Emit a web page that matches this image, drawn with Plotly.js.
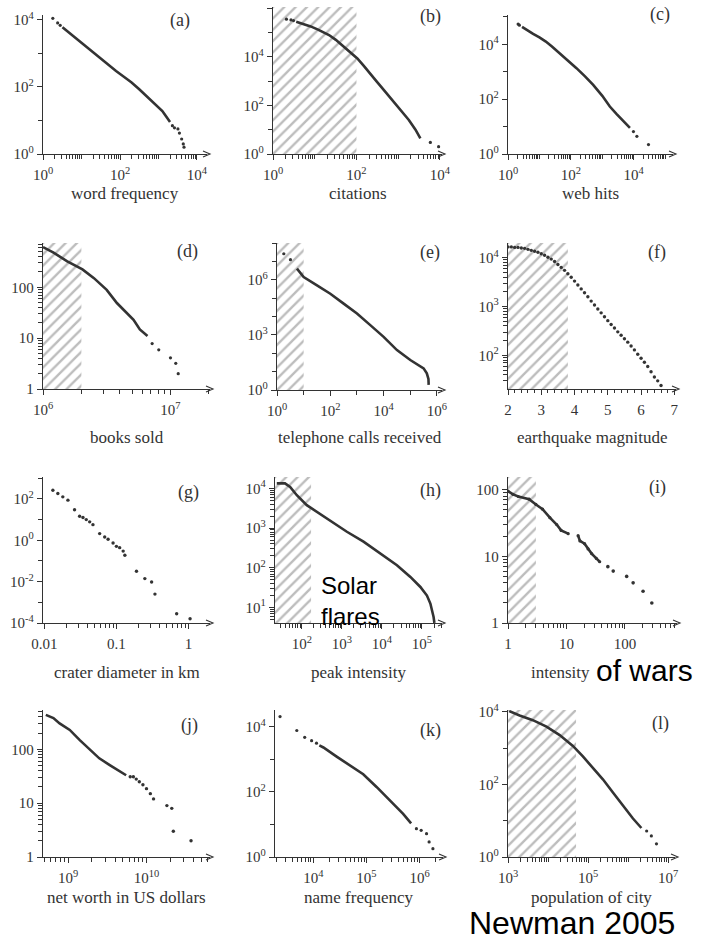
<!DOCTYPE html>
<html><head><meta charset="utf-8">
<script src="https://cdn.plot.ly/plotly-3.0.1.min.js"></script>
<style>html,body{margin:0;padding:0;background:#fff}#chart{width:706px;height:939px}</style>
</head><body><div id="chart"></div>
<script>
// ---------------- DATA ----------------
// (a) word frequency
const aLineX = [3.2, 6.3, 10, 20, 40, 79, 126, 200, 316, 500, 794, 1259, 1585, 1995];
const aLineY = [6000, 3200, 2000, 1050, 540, 295, 200, 135, 85, 52, 32, 19, 13, 9];
const aDotX = [1.8, 2.4, 2.8, 2300, 2600, 3200, 3500, 4000, 4400, 4600];
const aDotY = [11000, 8000, 6800, 7, 6, 5.6, 4.2, 2.8, 2, 1.6];
// (b) citations
const bLineX = [3.6, 5, 8, 12, 17, 22, 32, 45, 56, 70, 105, 150, 200, 300, 420, 600, 870, 1250, 1800, 2600, 3400];
const bLineY = [275000, 234000, 178000, 132000, 100000, 79000, 50000, 30000, 22000, 16000, 8500, 4200, 2400, 1000, 500, 240, 120, 55, 25, 10, 4.4];
const bDotX = [2.1, 2.7, 3.1, 5900, 9300];
const bDotY = [355000, 330000, 310000, 3, 2];
const bHatchEnd = 100;
// (c) web hits
const cLineX = [2.8, 4, 6.3, 10, 16, 25, 45, 79, 151, 282, 513, 1000, 1738, 2818, 4677, 7586];
const cLineY = [43600, 33100, 24000, 17800, 12600, 8300, 4700, 2630, 1350, 676, 331, 132, 54, 29, 15.5, 8.9];
const cDotX = [2.1, 2.3, 9800, 12600, 29500];
const cDotY = [55000, 50000, 6.6, 4.4, 2.2];
// (d) books sold
const dLineX = [1.0e6, 1.21e6, 1.55e6, 2.04e6, 2.51e6, 3.16e6, 3.8e6, 4.68e6, 5.13e6, 5.75e6, 6.6e6];
const dLineY = [617, 479, 324, 224, 151, 89, 49, 29, 23, 14.8, 11];
const dDotX = [7.18e6, 8.09e6, 1.0e7, 1.1e7, 1.15e7];
const dDotY = [7.8, 5.9, 4.1, 3.2, 2.0];
const dHatchEnd = 2e6;
// (e) telephone calls received
const eLineX = [5.6, 10, 31.6, 100, 316, 1000, 3162, 10000, 31623, 100000, 316228, 417000, 480000, 490000];
const eLineY = [4e6, 1.41e6, 5e5, 1.74e5, 5e4, 1.45e4, 3390, 776, 148, 43, 15, 8, 4, 1.9];
const eDotX = [1.8, 3.2];
const eDotY = [2.6e7, 1.23e7];
const eHatchEnd = 10;
// (f) earthquake magnitude
const fDotX = [2.0,2.1,2.2,2.3,2.4,2.5,2.6,2.7,2.8,2.9,3.0,3.1,3.2,3.3,3.4,3.5,3.6,3.7,3.8,3.9,4.0,4.1,4.2,4.3,4.4,4.5,4.6,4.7,4.8,4.9,5.0,5.1,5.2,5.3,5.4,5.5,5.6,5.7,5.8,5.9,6.0,6.1,6.2,6.3,6.4,6.5,6.6];
const fDotY = [16600,16600,16200,16200,15800,15500,14800,14100,13500,12900,12000,11200,10200,9330,8320,7240,6310,5500,4680,3980,3310,2750,2290,1910,1580,1290,1070,891,741,617,513,427,363,302,257,219,186,155,129,105,87,72,59,46,36,30,24];
const fHatchEnd = 3.8;
// (g) crater diameter in km
const gDotX = [0.0131, 0.01535, 0.018, 0.0212, 0.0262, 0.0308, 0.0343, 0.0381, 0.0425, 0.0472, 0.0585, 0.0687, 0.0766, 0.0898, 0.1, 0.111, 0.124, 0.131, 0.19, 0.248, 0.308, 0.343, 0.687, 1.055];
const gDotY = [263, 182, 126, 87, 30, 14.5, 12.6, 10, 7.8, 5.7, 2.1, 1.45, 1.12, 0.74, 0.51, 0.44, 0.3, 0.19, 0.032, 0.014, 0.0096, 0.0025, 0.00028, 0.00016];
// (h) solar flares peak intensity
const hLineX = [23.7, 38, 51, 75, 133, 237, 513, 1334, 3467, 9120, 23700, 51300, 91200, 133000, 162000, 195000, 204000];
const hLineY = [13500, 13500, 11000, 6760, 3800, 2570, 1585, 813, 457, 229, 117, 59, 33, 20, 12.6, 5.75, 4.1];
const hHatchEnd = 170;
// (i) intensity of wars
const iSeg1X = [1, 1.22, 1.5, 2.3, 3.0, 3.9, 5.2, 6.8, 8.1, 10.7];
const iSeg1Y = [95, 85, 79, 72, 60, 51, 38, 30, 24.5, 21.9];
const iSeg2X = [15.8, 17, 20.4, 23.4, 26.9, 32.4, 37];
const iSeg2Y = [20.4, 17, 15.5, 12.9, 11, 9.3, 8.3];
const iDotX = [51, 63, 107, 138, 204, 288];
const iDotY = [7, 6, 5, 4, 3, 2];
const iHatchEnd = 3;
// (j) net worth in US dollars
const jLineX = [5.2e8, 6.5e8, 7.8e8, 1.05e9, 1.41e9, 1.9e9, 2.5e9, 3.4e9, 4.6e9, 5.5e9];
const jLineY = [436, 380, 302, 229, 148, 98, 68, 51, 38, 33];
const jDotX = [6.2e9, 6.8e9, 7.4e9, 8.1e9, 9e9, 1.0e10, 1.12e10, 1.23e10, 1.82e10, 2.1e10, 2.2e10, 3.7e10];
const jDotY = [31, 31, 28, 25, 22, 18.6, 15, 12, 9, 8, 3, 2];
// (k) name frequency
const kLineX = [13000, 15500, 27500, 49000, 87000, 155000, 275000, 490000, 692000];
const kLineY = [2650, 2290, 1200, 660, 347, 141, 55, 21, 10.7];
const kDotX = [2370, 4900, 6900, 9300, 11500, 871000, 1.07e6, 1.35e6, 1.51e6, 1.78e6];
const kDotY = [20400, 7600, 4700, 3700, 3100, 7.4, 6.6, 5.2, 2.9, 1.8];
// (l) population of city
const lLineX = [1070, 1950, 4170, 9120, 19500, 41700, 74100, 132000, 234000, 417000, 741000, 1.32e6, 2.14e6];
const lLineY = [10500, 7940, 5890, 3890, 2290, 1150, 589, 288, 138, 60, 26, 11.5, 6.3];
const lDotX = [2.9e6, 3.8e6, 5.1e6];
const lDotY = [5.2, 3.8, 2.3];
const lHatchEnd = 5e4;

// ---------------- TEXT ----------------
const panelLabels = ['(a)','(b)','(c)','(d)','(e)','(f)','(g)','(h)','(i)','(j)','(k)','(l)'];
const axisTitles = ['word frequency','citations','web hits','books sold','telephone calls received','earthquake magnitude','crater diameter in km','peak intensity','intensity','net worth in US dollars','name frequency','population of city'];

const p = e => '10<sup>' + e + '</sup>';
// labelled ticks only (unlabelled decades are drawn as minor ticks)
const aXTickVals = [1,100,1e4],       aXTickText = [p(0),p(2),p(4)];
const aYTickVals = [1,100,1e4],       aYTickText = [p(0),p(2),p(4)];
const bXTickVals = [1,100,1e4],       bXTickText = [p(0),p(2),p(4)];
const bYTickVals = [1,100,1e4,1e6],   bYTickText = [p(0),p(2),p(4),p(6)];
const cXTickVals = [1,100,1e4],       cXTickText = [p(0),p(2),p(4)];
const cYTickVals = [1,100,1e4],       cYTickText = [p(0),p(2),p(4)];
const dXTickVals = [1e6,1e7],         dXTickText = [p(6),p(7)];
const dYTickVals = [1,10,100],        dYTickText = ['1','10','100'];
const eXTickVals = [1,100,1e4,1e6],   eXTickText = [p(0),p(2),p(4),p(6)];
const eYTickVals = [1,1e3,1e6],       eYTickText = [p(0),p(3),p(6)];
const fXTickVals = [2,3,4,5,6,7],     fXTickText = ['2','3','4','5','6','7'];
const fYTickVals = [100,1e3,1e4],     fYTickText = [p(2),p(3),p(4)];
const gXTickVals = [0.01,0.1,1],      gXTickText = ['0.01','0.1','1'];
const gYTickVals = [1e-4,1e-2,1,100], gYTickText = [p(-4),p(-2),p(0),p(2)];
const hXTickVals = [100,1e3,1e4,1e5], hXTickText = [p(2),p(3),p(4),p(5)];
const hYTickVals = [10,100,1e3,1e4],  hYTickText = [p(1),p(2),p(3),p(4)];
const iXTickVals = [1,10,100],        iXTickText = ['1','10','100'];
const iYTickVals = [1,10,100],        iYTickText = ['1','10','100'];
const jXTickVals = [1e9,1e10],        jXTickText = [p(9),p(10)];
const jYTickVals = [1,10,100],        jYTickText = ['1','10','100'];
const kXTickVals = [1e4,1e5,1e6],     kXTickText = [p(4),p(5),p(6)];
const kYTickVals = [1,100,1e4],       kYTickText = [p(0),p(2),p(4)];
const lXTickVals = [1e3,1e5,1e7],     lXTickText = [p(3),p(5),p(7)];
const lYTickVals = [1,100,1e4],       lYTickText = [p(0),p(2),p(4)];

// ---------------- LAYOUT (pixels) ----------------
const W = 706, H = 939;
const INK = '#333';
const SERIF = 'Liberation Serif, Times New Roman, serif';
const SANS = 'Liberation Sans, Arial, sans-serif';
// [left, right, top, bottom] of each panel's axes
const geoms = [
  [43,207,15,154],[273,442,7,154],[508,673,15,154],
  [43,210,243,389],[277,442,243,390],[508,676,243,389],
  [43,210,477,623],[275,442,477,623],[508,677,477,623],
  [43,210,710,857],[275,443,710,857],[508,675,710,857]
];
const xRanges = [[0,4.26],[0,4.05],[0,5.25],[6,7.31],[0,6.19],[2,7.05],[-2.02,0.3],[1.33,5.5],[0,2.89],[8.68,10.81],[3.28,6.44],[3,7.17]];
const yRanges = [[0,4.14],[0,6.05],[0,5.07],[0,2.87],[0,8.0],[1.31,4.3],[-4,3.06],[0.61,4.29],[0,2.19],[0,2.73],[0,4.51],[0,4.05]];
const xTypes = ['log','log','log','log','log','linear','log','log','log','log','log','log'];
const xTicks = [[aXTickVals,aXTickText],[bXTickVals,bXTickText],[cXTickVals,cXTickText],[dXTickVals,dXTickText],[eXTickVals,eXTickText],[fXTickVals,fXTickText],[gXTickVals,gXTickText],[hXTickVals,hXTickText],[iXTickVals,iXTickText],[jXTickVals,jXTickText],[kXTickVals,kXTickText],[lXTickVals,lXTickText]];
const yTicks = [[aYTickVals,aYTickText],[bYTickVals,bYTickText],[cYTickVals,cYTickText],[dYTickVals,dYTickText],[eYTickVals,eYTickText],[fYTickVals,fYTickText],[gYTickVals,gYTickText],[hYTickVals,hYTickText],[iYTickVals,iYTickText],[jYTickVals,jYTickText],[kYTickVals,kYTickText],[lYTickVals,lYTickText]];
const xSubOn = [true,true,true,true,false,true,true,true,true,true,true,true];
const ySubOn = [false,false,false,true,false,true,false,true,true,true,false,false];
const labelPos = [[180,20],[430,17],[660,15],[187,252],[430,253],[657,253],[188,492],[430,490],[657,487],[190,725],[430,730],[660,723]];
const titleY = [194,194,194,437,437,437,672,672,672,897,897,897];
const hatchEnds = [null,bHatchEnd,null,dHatchEnd,eHatchEnd,fHatchEnd,null,hHatchEnd,iHatchEnd,null,null,lHatchEnd];

// minor tick positions: unlabelled decades, plus 2..9 sub-decade ticks where the axis shows them
function minorLog(lo, hi, labelled, sub) {
  const out = [];
  for (let k = Math.floor(lo); k <= Math.ceil(hi); k++) {
    const d = Math.pow(10, k);
    if (k >= lo && k <= hi && !labelled.some(v => Math.abs(Math.log10(v) - k) < 1e-9)) out.push(d);
    if (sub) for (let m = 2; m <= 9; m++) {
      const v = m * d, lv = Math.log10(v);
      if (lv > lo && lv < hi) out.push(v);
    }
  }
  return out;
}

const layout = {
  width: W, height: H, margin: {l:0, r:0, t:0, b:0},
  paper_bgcolor: '#fff', plot_bgcolor: 'rgba(0,0,0,0)',
  showlegend: false, font: {family: SERIF, color: INK, size: 15},
  annotations: [], shapes: []
};
const traces = [];

geoms.forEach((g, i) => {
  const n = i === 0 ? '' : String(i + 1);
  const [x0, x1, yt, yb] = g;
  const xa = {
    domain: [x0 / W, x1 / W], anchor: 'y' + n, type: xTypes[i], range: xRanges[i],
    showline: true, linecolor: INK, linewidth: 1.2, showgrid: false, zeroline: false,
    ticks: 'outside', ticklen: 5, tickwidth: 1, tickcolor: INK,
    tickmode: 'array', tickvals: xTicks[i][0], ticktext: xTicks[i][1],
    tickfont: {family: SERIF, size: 15, color: INK}, ticklabelstandoff: 2,
    fixedrange: true
  };
  if (xTypes[i] === 'log') xa.minor = {tickmode: 'array', tickvals: minorLog(xRanges[i][0], xRanges[i][1], xTicks[i][0], xSubOn[i]), ticklen: 3.5, tickcolor: INK, ticks: 'outside'};
  else xa.minor = {dtick: 0.2, tick0: 2, ticklen: 3, tickcolor: INK, ticks: 'outside'};
  const ya = {
    domain: [1 - yb / H, 1 - yt / H], anchor: 'x' + n, type: 'log', range: yRanges[i],
    showline: true, linecolor: INK, linewidth: 1.2, showgrid: false, zeroline: false,
    ticks: 'outside', ticklen: 5, tickwidth: 1, tickcolor: INK,
    tickmode: 'array', tickvals: yTicks[i][0], ticktext: yTicks[i][1],
    tickfont: {family: SERIF, size: 15, color: INK}, fixedrange: true,
    minor: {tickmode: 'array', tickvals: minorLog(yRanges[i][0], yRanges[i][1], yTicks[i][0], ySubOn[i]), ticklen: 3.5, tickcolor: INK, ticks: 'outside'}
  };
  layout['xaxis' + n] = xa;
  layout['yaxis' + n] = ya;

  // hatched region
  if (hatchEnds[i] !== null) {
    const hx0 = xTypes[i] === 'log' ? Math.pow(10, xRanges[i][0]) : xRanges[i][0];
    const hy0 = Math.pow(10, yRanges[i][0]), hy1 = Math.pow(10, yRanges[i][1]);
    traces.push({
      type: 'scatter', xaxis: 'x' + n, yaxis: 'y' + n, mode: 'lines',
      x: [hx0, hatchEnds[i], hatchEnds[i], hx0, hx0], y: [hy0, hy0, hy1, hy1, hy0],
      fill: 'toself', fillcolor: 'rgba(0,0,0,0)', line: {width: 0, color: 'rgba(0,0,0,0)'},
      fillpattern: {shape: '/', fgcolor: '#bdbdbd', bgcolor: 'rgba(255,255,255,0)', size: 8, solidity: 0.3},
      hoverinfo: 'skip'
    });
  }

  // panel letter
  layout.annotations.push({xref: 'paper', yref: 'paper', x: labelPos[i][0] / W, y: 1 - labelPos[i][1] / H,
    text: panelLabels[i], showarrow: false, xanchor: 'center', yanchor: 'middle',
    font: {family: SERIF, size: 18, color: INK}});
  // axis title
  const tx = i === 8 ? 592 : (x0 + x1) / 2;
  layout.annotations.push({xref: 'paper', yref: 'paper', x: tx / W, y: 1 - titleY[i] / H,
    text: axisTitles[i], showarrow: false, xanchor: i === 8 ? 'right' : 'center', yanchor: 'middle',
    font: {family: SERIF, size: 17, color: INK}});
  // small arrow head at the end of the x axis
  const ax = (x1 + 3) / W, ay = 1 - yb / H;
  layout.shapes.push({type: 'path', xref: 'paper', yref: 'paper',
    path: 'M' + (ax - 7 / W) + ',' + (ay + 3 / H) + ' L' + ax + ',' + ay + ' L' + (ax - 7 / W) + ',' + (ay - 3 / H),
    line: {color: INK, width: 1.1}});
});

function addLine(i, X, Y) {
  const n = i === 0 ? '' : String(i + 1);
  traces.push({type: 'scatter', mode: 'lines', x: X, y: Y, xaxis: 'x' + n, yaxis: 'y' + n,
    line: {color: INK, width: 2.6}, hoverinfo: 'skip'});
}
function addDots(i, X, Y, s) {
  const n = i === 0 ? '' : String(i + 1);
  traces.push({type: 'scatter', mode: 'markers', x: X, y: Y, xaxis: 'x' + n, yaxis: 'y' + n,
    marker: {color: INK, size: s || 3.2}, hoverinfo: 'skip'});
}
addLine(0, aLineX, aLineY); addDots(0, aDotX, aDotY);
addLine(1, bLineX, bLineY); addDots(1, bDotX, bDotY);
addLine(2, cLineX, cLineY); addDots(2, cDotX, cDotY);
addLine(3, dLineX, dLineY); addDots(3, dDotX, dDotY);
addLine(4, eLineX, eLineY); addDots(4, eDotX, eDotY);
addDots(5, fDotX, fDotY, 3.4);
addDots(6, gDotX, gDotY, 3.4);
addLine(7, hLineX, hLineY);
addLine(8, iSeg1X, iSeg1Y); addLine(8, iSeg2X, iSeg2Y); addDots(8, iSeg1X, iSeg1Y); addDots(8, iSeg2X, iSeg2Y); addDots(8, iDotX, iDotY, 3.6);
addLine(9, jLineX, jLineY); addDots(9, jDotX, jDotY, 3.4);
addLine(10, kLineX, kLineY); addDots(10, kDotX, kDotY);
addLine(11, lLineX, lLineY); addDots(11, lDotX, lDotY);

// overlaid sans-serif notes
layout.annotations.push({xref: 'paper', yref: 'paper', x: 319 / W, y: 1 - 570 / H, xanchor: 'left', yanchor: 'top',
  text: 'Solar<br>flares', showarrow: false, align: 'left',
  font: {family: SANS, size: 24, color: '#000'}});
layout.annotations.push({xref: 'paper', yref: 'paper', x: 594 / W, y: 1 - 670 / H, xanchor: 'left', yanchor: 'middle',
  text: 'of wars', showarrow: false,
  font: {family: SANS, size: 30, color: '#000'}});
layout.annotations.push({xref: 'paper', yref: 'paper', x: 467 / W, y: 1 - 923 / H, xanchor: 'left', yanchor: 'middle',
  text: 'Newman 2005', showarrow: false,
  font: {family: SANS, size: 32, color: '#000'}});

Plotly.newPlot('chart', traces, layout, {displayModeBar: false, staticPlot: true});
</script></body></html>
